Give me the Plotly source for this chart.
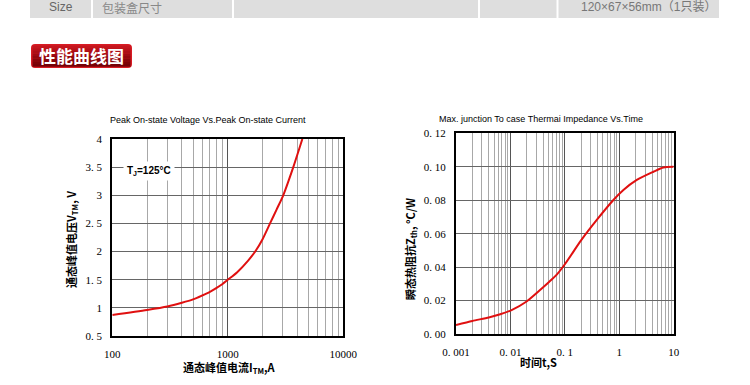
import plotly.graph_objects as go

W, H = 750, 385

# ---------------- data ----------------
# Left chart: peak on-state current (A) vs peak on-state voltage (V)
current_A = [100, 200, 300, 400, 500, 600, 700, 800, 900, 1000, 1200, 1500, 1750, 2000,
             2320, 2650, 3020, 3690, 4420]
voltage_V = [0.874, 0.963, 1.025, 1.09, 1.15, 1.22, 1.285, 1.355, 1.425, 1.50, 1.63, 1.84, 2.02, 2.22,
             2.5, 2.75, 3.0, 3.5, 4.0]

# Right chart: time (s) vs transient thermal impedance (°C/W)
time_s = [0.001, 0.002, 0.004, 0.0065, 0.0105, 0.0195, 0.035, 0.05, 0.071, 0.1,
          0.2, 0.386, 0.78, 1.19, 2.10, 4.24, 6.46, 10]
zth = [0.0054, 0.0078, 0.0099, 0.0118, 0.0143, 0.0193, 0.0263, 0.0308, 0.0355, 0.0417,
       0.0561, 0.0682, 0.0801, 0.0861, 0.0921, 0.0970, 0.0996, 0.1000]

left_yticks = [0.5, 1, 1.5, 2, 2.5, 3, 3.5, 4]
left_yticktext = ["0. 5", "1", "1. 5", "2", "2. 5", "3", "3. 5", "4"]
left_xticks = [100, 1000, 10000]
left_xticktext = ["100", "1000", "10000"]
right_yticks = [0, 0.02, 0.04, 0.06, 0.08, 0.10, 0.12]
right_yticktext = ["0. 00", "0. 02", "0. 04", "0. 06", "0. 08", "0. 10", "0. 12"]
right_xticks = [0.001, 0.01, 0.1, 1, 10]
right_xticktext = ["0. 001", "0. 01", "0. 1", "1", "10"]

left_minor = [m * 10 ** e for e in (2, 3) for m in range(2, 10)]
right_minor = [m * 10.0 ** e for e in (-3, -2, -1, 0) for m in range(2, 10)]


def px(x):
    return x / W


def py(y):
    return 1 - y / H


fig = go.Figure()
RED = "#e01010"
fig.add_trace(go.Scatter(x=current_A, y=voltage_V, mode="lines", xaxis="x", yaxis="y",
                         line=dict(color=RED, width=2, shape="spline", smoothing=0.7),
                         showlegend=False, hoverinfo="skip"))
fig.add_trace(go.Scatter(x=time_s, y=zth, mode="lines", xaxis="x2", yaxis="y2",
                         line=dict(color=RED, width=2, shape="spline", smoothing=0.7),
                         showlegend=False, hoverinfo="skip"))

tickfont = dict(family="Liberation Serif, DejaVu Serif, serif", size=11, color="#000")
common = dict(showline=True, linewidth=2, linecolor="#000", mirror=True, ticks="",
              zeroline=False, tickfont=tickfont, fixedrange=True, automargin=False)

fig.update_layout(
    template="none",
    width=W, height=H, margin=dict(l=0, r=0, t=0, b=0, pad=0), autosize=False,
    paper_bgcolor="white", plot_bgcolor="white",
    xaxis=dict(type="log", range=[2, 4], domain=[px(112.3), px(343.3)], anchor="y",
               tickmode="array", tickvals=left_xticks, ticktext=left_xticktext,
               showgrid=True, gridcolor="#555", gridwidth=1, ticklabelstandoff=7,
               minor=dict(tickmode="array", tickvals=left_minor, showgrid=True,
                          gridcolor="#a8a8a8", gridwidth=1, ticks=""),
               **common),
    yaxis=dict(range=[0.5, 4], domain=[py(336), py(139)], anchor="x",
               tickmode="array", tickvals=left_yticks, ticktext=left_yticktext,
               showgrid=True, gridcolor="#666", gridwidth=1, ticklabelstandoff=6,
               **common),
    xaxis2=dict(type="log", range=[-3, 1], domain=[px(456), px(673.7)], anchor="y2",
                tickmode="array", tickvals=right_xticks, ticktext=right_xticktext,
                showgrid=True, gridcolor="#555", gridwidth=1, ticklabelstandoff=7,
                minor=dict(tickmode="array", tickvals=right_minor, showgrid=True,
                           gridcolor="#a8a8a8", gridwidth=1, ticks=""),
                **common),
    yaxis2=dict(range=[0, 0.12], domain=[py(334), py(133.3)], anchor="x2",
                tickmode="array", tickvals=right_yticks, ticktext=right_yticktext,
                showgrid=True, gridcolor="#666", gridwidth=1, ticklabelstandoff=6,
                **common),
)

shapes = []
annotations = []

# ---- top table row ----
shapes.append(dict(type="rect", xref="paper", yref="paper", x0=px(30), x1=px(719),
                   y0=py(18), y1=py(0), fillcolor="#dedede", line=dict(width=0), layer="below"))
for xd in (92, 233, 479, 557.5):
    shapes.append(dict(type="line", xref="paper", yref="paper", x0=px(xd), x1=px(xd),
                       y0=py(18), y1=py(0), line=dict(color="white", width=2)))
annotations.append(dict(x=px(47), y=py(7), xref="paper", yref="paper", text="Size",
                        showarrow=False, xanchor="left", yanchor="middle",
                        font=dict(family="Liberation Sans, Arial", size=12, color="#666")))
annotations.append(dict(x=px(100), y=py(7), xref="paper", yref="paper", text="包装盒尺寸",
                        showarrow=False, xanchor="left", yanchor="middle",
                        font=dict(family="Noto Sans CJK SC", size=12, color="#888")))
annotations.append(dict(x=px(718), y=py(7), xref="paper", yref="paper",
                        text="120×67×56mm（1只装）",
                        showarrow=False, xanchor="right", yanchor="middle",
                        font=dict(family="Liberation Sans, Noto Sans CJK SC", size=12, color="#777")))


# ---- red badge ----
def rounded(x0, y0, x1, y1, r):
    X0, X1 = px(x0), px(x1)
    Y0, Y1 = py(y1), py(y0)  # Y0 bottom, Y1 top in paper
    rx, ry = r / W, r / H
    return (f"M {X0+rx},{Y1} L {X1-rx},{Y1} Q {X1},{Y1} {X1},{Y1-ry} "
            f"L {X1},{Y0+ry} Q {X1},{Y0} {X1-rx},{Y0} L {X0+rx},{Y0} "
            f"Q {X0},{Y0} {X0},{Y0+ry} L {X0},{Y1-ry} Q {X0},{Y1} {X0+rx},{Y1} Z")


shapes.append(dict(type="path", xref="paper", yref="paper", path=rounded(31, 44, 132, 68, 4),
                   fillcolor="#d81c24", line=dict(width=0)))
bands = ["#c4161e", "#b8121a", "#ac0e16", "#a00a12", "#94070e", "#89050b", "#7e0308", "#760207"]
y_top, y_bot = 45.5, 66.5
bh = (y_bot - y_top) / len(bands)
for i, c in enumerate(bands):
    shapes.append(dict(type="rect", xref="paper", yref="paper", x0=px(32.5), x1=px(130.5),
                       y0=py(y_top + (i + 1) * bh + 0.2), y1=py(y_top + i * bh),
                       fillcolor=c, line=dict(width=0)))
annotations.append(dict(x=px(81.5), y=py(55.5), xref="paper", yref="paper", text="<b>性能曲线图</b>",
                        showarrow=False, xanchor="center", yanchor="middle",
                        font=dict(family="Noto Sans CJK SC", size=17, color="white")))

# ---- chart titles ----
title_font = dict(family="Liberation Sans, Arial", size=9, color="#000")
annotations.append(dict(x=px(207.5), y=py(120), xref="paper", yref="paper",
                        text="Peak On-state Voltage Vs.Peak On-state Current",
                        showarrow=False, xanchor="center", yanchor="middle", font=title_font))
annotations.append(dict(x=px(540.5), y=py(119), xref="paper", yref="paper",
                        text="Max. junction To case Thermai Impedance Vs.Time",
                        showarrow=False, xanchor="center", yanchor="middle", font=title_font))

# ---- axis titles ----
axfont = dict(family="Noto Sans CJK SC, Liberation Sans", size=11, color="#000")
annotations.append(dict(x=px(230), y=py(367), xref="paper", yref="paper",
                        text="<b>通态峰值电流I<sub>TM</sub>,A</b>",
                        showarrow=False, xanchor="center", yanchor="middle", font=axfont))
annotations.append(dict(x=px(71), y=py(240), xref="paper", yref="paper",
                        text="<b>通态峰值电压V<sub>TM</sub>, V</b>", textangle=-90,
                        showarrow=False, xanchor="center", yanchor="middle", font=axfont))
annotations.append(dict(x=px(538), y=py(362), xref="paper", yref="paper",
                        text="<b>时间t,S</b>",
                        showarrow=False, xanchor="center", yanchor="middle", font=axfont))
annotations.append(dict(x=px(410), y=py(249), xref="paper", yref="paper",
                        text="<b>瞬态热阻抗Z<sub>th</sub>, °C/W</b>", textangle=-90,
                        showarrow=False, xanchor="center", yanchor="middle", font=axfont))

# ---- Tj annotation ----
annotations.append(dict(x=px(149), y=py(171), xref="paper", yref="paper",
                        text="<b>T<sub>J</sub>=125°C</b>", bgcolor="white", borderpad=3,
                        showarrow=False, xanchor="center", yanchor="middle",
                        font=dict(family="Liberation Sans, Arial", size=10, color="#000")))

fig.update_layout(shapes=shapes, annotations=annotations)
fig.write_html("out.html", config={"displayModeBar": False},
               post_script="document.body.style.margin='0';document.body.style.overflow='hidden';")
